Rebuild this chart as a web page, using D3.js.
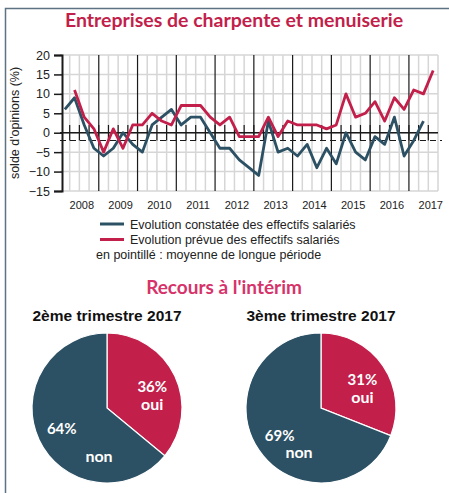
<!DOCTYPE html>
<html>
<head>
<meta charset="utf-8">
<script src="https://cdn.jsdelivr.net/npm/d3@7"></script>
<style>
  body { margin: 0; background: #fff; }
  text { font-family: "Liberation Sans", Arial, sans-serif; }
  .big { font-family: Lato, "Open Sans", sans-serif; font-weight: bold; }
</style>
</head>
<body>
<script>
var w = 449;
var h = 493;

// quarterly series, first point = 2008 Q1
var constatee = [6, 9, 2, -4, -6, -4, 0, -3, -5, 2, 4, 6, 2, 4, 4, 0, -4, -4, -7, -9,
                 -11, 3, -5, -4, -6, -3, -9, -4, -8, 0, -5, -7, -1, -3, 4, -6, -2, 3];
// forecast series, first point = 2008 Q2
var prevue = [11, 4, 1, -5, 1, -4, 2, 2, 5, 3, 2, 7, 7, 7, 4, 2, 4, -1, -1, -1,
              4, -1, 3, 2, 2, 2, 1, 2, 10, 4, 5, 8, 3, 9, 6, 11, 10, 16];
var moyenne = -2;
var years = [2008, 2009, 2010, 2011, 2012, 2013, 2014, 2015, 2016, 2017];
var yTicks = [20, 15, 10, 5, 0, -5, -10, -15];

var pieTitles = ["2ème trimestre 2017", "3ème trimestre 2017"];
var oui = [36, 31];
var non = [64, 69];
var nonOffsets = [[-8, 54], [-22, 50]];

var blue = "#2c5064";
var red = "#c21f4b";

var svg = d3.select("body").append("svg")
    .attr("width", w)
    .attr("height", h);

// frame
svg.append("path")
    .attr("d", "M5.5," + h + " V8.5 H" + w)
    .attr("fill", "none")
    .attr("stroke", "#5d7282")
    .attr("stroke-width", 1.5);

svg.append("text")
    .attr("class", "big")
    .attr("x", 234)
    .attr("y", 27)
    .attr("text-anchor", "middle")
    .attr("fill", red)
    .style("font-size", "19.5px")
    .text("Entreprises de charpente et menuiserie");

// line chart
var xScale = d3.scaleLinear().domain([2008, 2017.75]).range([60, 438]);
var yScale = d3.scaleLinear().domain([-15, 20]).range([191, 55]);

var quarters = d3.range(0, 39).map(function(i) { return 2008 + i / 4; });

svg.append("g").selectAll("line")
    .data(quarters.filter(function(q) { return q % 1 !== 0; }).concat([2017.75]))
    .enter().append("line")
    .attr("x1", function(d) { return xScale(d); })
    .attr("x2", function(d) { return xScale(d); })
    .attr("y1", yScale(20))
    .attr("y2", yScale(-15))
    .attr("stroke", "#d6d6d6")
    .attr("stroke-width", 1.5);

svg.append("g").selectAll("line")
    .data(yTicks)
    .enter().append("line")
    .attr("x1", xScale(2008))
    .attr("x2", xScale(2017.75))
    .attr("y1", function(d) { return yScale(d); })
    .attr("y2", function(d) { return yScale(d); })
    .attr("stroke", "#d6d6d6")
    .attr("stroke-width", 1.5);

svg.append("g").selectAll("line")
    .data(years.slice(1))
    .enter().append("line")
    .attr("x1", function(d) { return xScale(d); })
    .attr("x2", function(d) { return xScale(d); })
    .attr("y1", yScale(20))
    .attr("y2", yScale(-15))
    .attr("stroke", "#1a1a1a")
    .attr("stroke-width", 1.2);

// ticks on the zero line
svg.append("g").selectAll("line")
    .data(quarters.slice(1))
    .enter().append("line")
    .attr("x1", function(d) { return xScale(d); })
    .attr("x2", function(d) { return xScale(d); })
    .attr("y1", yScale(2))
    .attr("y2", yScale(-2))
    .attr("stroke", "#1a1a1a")
    .attr("stroke-width", 1.2);

svg.append("line")
    .attr("x1", xScale(2008))
    .attr("x2", xScale(2017.75) + 4)
    .attr("y1", yScale(moyenne))
    .attr("y2", yScale(moyenne))
    .attr("stroke", "#1a1a1a")
    .attr("stroke-width", 1.2)
    .attr("stroke-dasharray", "6,4");

svg.append("line")
    .attr("x1", xScale(2008))
    .attr("x2", xScale(2017.75))
    .attr("y1", yScale(0))
    .attr("y2", yScale(0))
    .attr("stroke", "#1a1a1a")
    .attr("stroke-width", 1.5);

var yAxis = d3.axisLeft(yScale)
    .tickValues(yTicks)
    .tickSize(8)
    .tickPadding(4);

var gy = svg.append("g")
    .attr("transform", "translate(" + (xScale(2008) + 2) + ",0)")
    .call(yAxis);
gy.select(".domain").attr("stroke", "#1a1a1a").attr("stroke-width", 2);
gy.selectAll(".tick line").attr("stroke", "#1a1a1a").attr("stroke-width", 1.5);
gy.selectAll(".tick text")
    .style("font-size", "12.5px")
    .style("font-family", "Liberation Sans, Arial, sans-serif")
    .attr("fill", "#222");

var gx = svg.append("g")
    .attr("transform", "translate(0," + yScale(-15) + ")")
    .call(d3.axisBottom(xScale)
      .tickValues(years.map(function(y) { return y + 0.55; }))
      .tickFormat(function(d) { return Math.floor(d); })
      .tickSize(0)
      .tickPadding(10));
gx.select(".domain").remove();
gx.selectAll(".tick text")
    .style("font-size", "11px")
    .style("font-family", "Liberation Sans, Arial, sans-serif")
    .attr("fill", "#222");

svg.append("text")
    .attr("transform", "rotate(-90)")
    .attr("x", -yScale(2.5))
    .attr("y", 19)
    .attr("text-anchor", "middle")
    .style("font-size", "12.5px")
    .attr("fill", "#222")
    .text("solde d'opinions (%)");

var line = d3.line()
    .x(function(d) { return xScale(d.q + 0.125); })
    .y(function(d) { return yScale(d.v); });

svg.append("path")
    .datum(constatee.map(function(v, i) { return { q: 2008 + i / 4, v: v }; }))
    .attr("d", line)
    .attr("fill", "none")
    .attr("stroke", blue)
    .attr("stroke-width", 2.8)
    .attr("stroke-linejoin", "round");

svg.append("path")
    .datum(prevue.map(function(v, i) { return { q: 2008.25 + i / 4, v: v }; }))
    .attr("d", line)
    .attr("fill", "none")
    .attr("stroke", red)
    .attr("stroke-width", 2.8)
    .attr("stroke-linejoin", "round");

// legend
var legend = [
  { c: blue, t: "Evolution constatée des effectifs salariés" },
  { c: red, t: "Evolution prévue des effectifs salariés" }
];
var lg = svg.append("g").selectAll("g")
    .data(legend)
    .enter().append("g")
    .attr("transform", function(d, i) { return "translate(100," + (224 + i * 15.5) + ")"; });
lg.append("line")
    .attr("x2", 24)
    .attr("stroke", function(d) { return d.c; })
    .attr("stroke-width", 3);
lg.append("text")
    .attr("x", 30)
    .attr("y", 4.5)
    .style("font-size", "12.5px")
    .attr("fill", "#222")
    .text(function(d) { return d.t; });

svg.append("text")
    .attr("x", 96)
    .attr("y", 259)
    .style("font-size", "12.5px")
    .attr("fill", "#222")
    .text("en pointillé : moyenne de longue période");

svg.append("text")
    .attr("class", "big")
    .attr("x", 224)
    .attr("y", 294)
    .attr("text-anchor", "middle")
    .attr("fill", "#d6336a")
    .style("font-size", "19px")
    .text("Recours à l'intérim");

// pies
var r = 75;
var pie = d3.pie().sort(null).value(function(d) { return d.v; });
var arc = d3.arc().innerRadius(0).outerRadius(r);
var labelArc = d3.arc().innerRadius(50).outerRadius(50);
var centers = [107, 321];

pieTitles.forEach(function(title, k) {
  var g = svg.append("g").attr("transform", "translate(" + centers[k] + ",408)");

  svg.append("text")
    .attr("x", centers[k])
    .attr("y", 321)
    .attr("text-anchor", "middle")
    .style("font-size", "15.5px")
    .style("font-weight", "bold")
    .attr("fill", "#111")
    .text(title);

  var arcs = pie([{ k: "oui", v: oui[k], c: red }, { k: "non", v: non[k], c: blue }]);

  g.selectAll("path")
    .data(arcs)
    .enter().append("path")
    .attr("d", arc)
    .attr("fill", function(d) { return d.data.c; })
    .attr("stroke", "#fff")
    .attr("stroke-width", 1.2);

  g.selectAll("text.pct")
    .data(arcs)
    .enter().append("text")
    .attr("class", "pct big")
    .attr("x", function(d) { return labelArc.centroid(d)[0]; })
    .attr("y", function(d) { return labelArc.centroid(d)[1] + 5; })
    .attr("text-anchor", "middle")
    .attr("fill", "#fff")
    .style("font-size", "15px")
    .text(function(d) { return d.data.v + "%"; });

  g.append("text")
    .attr("class", "big")
    .attr("x", labelArc.centroid(arcs[0])[0])
    .attr("y", labelArc.centroid(arcs[0])[1] + 23)
    .attr("text-anchor", "middle")
    .attr("fill", "#fff")
    .style("font-size", "16px")
    .text("oui");

  g.append("text")
    .attr("class", "big")
    .attr("x", nonOffsets[k][0])
    .attr("y", nonOffsets[k][1])
    .attr("text-anchor", "middle")
    .attr("fill", "#fff")
    .style("font-size", "16px")
    .text("non");
});
</script>
</body>
</html>
